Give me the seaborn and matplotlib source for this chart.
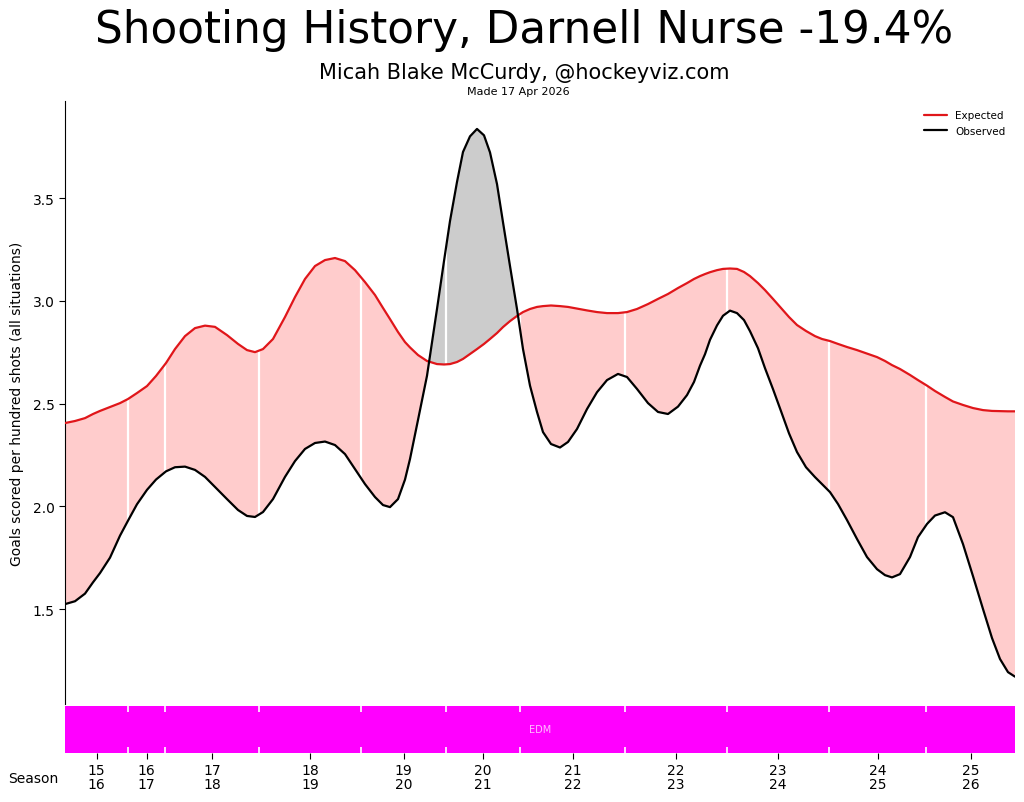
import numpy as np
import pandas as pd
import matplotlib
matplotlib.use("Agg")
import matplotlib.pyplot as plt
import seaborn as sns
from matplotlib.lines import Line2D

# ---------------- data ----------------
seasons = ["15\n16", "16\n17", "17\n18", "18\n19", "19\n20", "20\n21",
           "21\n22", "22\n23", "23\n24", "24\n25", "25\n26"]
season_lengths = [63, 37, 94, 102, 85, 74, 105, 102, 102, 97, 89]
teams = ["EDM"] * 11

x_pts = [0, 10, 20, 28, 35, 45, 55, 63, 72, 82,
         91, 101, 110, 120, 130, 140, 150, 162, 173, 182,
         190, 198, 208, 220, 230, 240, 250, 260, 270, 280,
         290, 300, 310, 318, 325, 333, 340, 345, 353, 362,
         372, 379, 385, 392, 398, 405, 412, 419, 425, 432,
         438, 445, 452, 458, 465, 472, 478, 486, 495, 503,
         512, 522, 532, 542, 553, 562, 572, 583, 593, 603,
         613, 622, 629, 635, 640, 645, 652, 658, 665, 672,
         679, 685, 693, 700, 708, 716, 724, 732, 741, 750,
         757, 765, 773, 782, 792, 802, 812, 820, 827, 835,
         845, 853, 862, 870, 880, 888, 898, 908, 918, 927,
         935, 943, 950]
observed = [1.524, 1.538, 1.575, 1.630, 1.675, 1.750, 1.857, 1.930, 2.010, 2.080,
            2.130, 2.170, 2.190, 2.193, 2.177, 2.143, 2.094, 2.035, 1.982, 1.953,
            1.948, 1.972, 2.035, 2.143, 2.220, 2.279, 2.308, 2.315, 2.298, 2.254,
            2.181, 2.108, 2.045, 2.006, 1.996, 2.035, 2.130, 2.230, 2.420, 2.635,
            2.960, 3.193, 3.388, 3.578, 3.724, 3.800, 3.836, 3.805, 3.722, 3.568,
            3.382, 3.169, 2.960, 2.765, 2.587, 2.459, 2.361, 2.303, 2.286, 2.313,
            2.376, 2.473, 2.555, 2.614, 2.644, 2.629, 2.571, 2.502, 2.459, 2.449,
            2.485, 2.541, 2.605, 2.684, 2.740, 2.810, 2.880, 2.927, 2.952, 2.940,
            2.906, 2.852, 2.769, 2.672, 2.570, 2.463, 2.355, 2.264, 2.190, 2.142,
            2.108, 2.069, 2.011, 1.933, 1.841, 1.753, 1.694, 1.665, 1.654, 1.670,
            1.753, 1.850, 1.914, 1.955, 1.971, 1.947, 1.816, 1.660, 1.500, 1.359,
            1.257, 1.193, 1.171]
expected = [2.405, 2.415, 2.429, 2.449, 2.464, 2.483, 2.502, 2.522, 2.551, 2.585,
            2.634, 2.697, 2.765, 2.828, 2.867, 2.879, 2.873, 2.833, 2.790, 2.760,
            2.750, 2.765, 2.814, 2.921, 3.018, 3.106, 3.169, 3.198, 3.208, 3.193,
            3.149, 3.091, 3.028, 2.965, 2.911, 2.848, 2.799, 2.773, 2.736, 2.707,
            2.692, 2.690, 2.692, 2.702, 2.717, 2.741, 2.765, 2.790, 2.814, 2.843,
            2.872, 2.901, 2.926, 2.945, 2.960, 2.970, 2.974, 2.977, 2.974, 2.970,
            2.962, 2.953, 2.945, 2.940, 2.940, 2.945, 2.960, 2.984, 3.009, 3.033,
            3.062, 3.086, 3.106, 3.120, 3.130, 3.139, 3.149, 3.155, 3.157, 3.155,
            3.140, 3.120, 3.086, 3.052, 3.009, 2.965, 2.921, 2.882, 2.853, 2.828,
            2.814, 2.804, 2.790, 2.775, 2.760, 2.743, 2.726, 2.707, 2.687, 2.668,
            2.639, 2.614, 2.587, 2.561, 2.532, 2.510, 2.493, 2.478, 2.468, 2.464,
            2.463, 2.462, 2.462]

yticks = [1.5, 2.0, 2.5, 3.0, 3.5]

# ---------------- styling ----------------
sns.set_style("ticks")
plt.rcParams["font.family"] = ["DejaVu Sans"]
for k in ["text.color", "axes.labelcolor", "xtick.color", "ytick.color", "axes.edgecolor"]:
    plt.rcParams[k] = "black"

RED = "#e0161a"
PINK = "#ffcccc"
GREY = "#cccccc"
MAGENTA = "#ff00ff"

df = pd.DataFrame({"x": x_pts, "Expected": expected, "Observed": observed})
long = df.melt(id_vars="x", var_name="series", value_name="value")

fig = plt.figure(figsize=(10.24, 8.03), dpi=100)
ax = fig.add_axes([65 / 1024, 1 - 705 / 803, 950 / 1024, 603 / 803])
ax2 = fig.add_axes([65 / 1024, 1 - 754 / 803, 950 / 1024, 47 / 803])

xa = np.array(x_pts, float)
ea = np.array(expected)
oa = np.array(observed)

ax.fill_between(xa, oa, ea, where=oa <= ea, interpolate=True, color=PINK, lw=0, zorder=1)
ax.fill_between(xa, oa, ea, where=oa >= ea, interpolate=True, color=GREY, lw=0, zorder=1)

bounds = np.cumsum(season_lengths)[:-1]
for b in bounds:
    e_b = np.interp(b, xa, ea)
    o_b = np.interp(b, xa, oa)
    ax.vlines(b, min(e_b, o_b), max(e_b, o_b), color="white", lw=1.6, zorder=2)

sns.lineplot(data=long, x="x", y="value", hue="series",
             palette={"Expected": RED, "Observed": "black"},
             lw=1.6, ax=ax, legend=False, zorder=3, sort=False)

ax.set_xlim(0, sum(season_lengths))
ax.set_ylim(1.038, 3.972)
ax.set_yticks(yticks)
ax.set_yticklabels([f"{v:.1f}" for v in yticks], fontsize=10)
ax.set_xticks([])
ax.set_xlabel("")
ax.set_ylabel("Goals scored per hundred shots (all situations)", fontsize=10, labelpad=6)
for s in ["top", "right", "bottom"]:
    ax.spines[s].set_visible(False)
ax.spines["left"].set_color("black")
ax.tick_params(axis="y", length=4, width=0.8, color="black", direction="out", left=True)

handles = [Line2D([0], [0], color=RED, lw=1.6), Line2D([0], [0], color="black", lw=1.6)]
ax.legend(handles, ["Expected", "Observed"], loc="upper right", frameon=False,
          fontsize=7.5, handlelength=2.2, bbox_to_anchor=(1.0, 1.0))

# ---------------- team bar ----------------
starts = np.concatenate([[0], np.cumsum(season_lengths)[:-1]])
ax2.barh([0.5] * len(season_lengths), season_lengths, left=starts, height=1.0,
         color=MAGENTA, edgecolor="none", zorder=1)
ax2.set_xlim(0, sum(season_lengths))
ax2.set_ylim(0, 1)
ax2.text(sum(season_lengths) / 2, 0.5, teams[0], color="#ffbbff", fontsize=7,
         ha="center", va="center")
ax2.vlines(bounds, 0, 0.12, color="white", lw=1.2, zorder=3)
ax2.vlines(bounds, 0.88, 1.0, color="white", lw=1.2, zorder=3)
ax2.set_yticks([])
centers = starts + np.array(season_lengths) / 2
ax2.set_xticks(centers)
ax2.set_xticklabels(seasons, fontsize=10, linespacing=1.05)
ax2.tick_params(axis="x", direction="out", color="black", length=4,
                width=0.8, pad=3, bottom=True, top=False)
for s in ax2.spines.values():
    s.set_visible(False)
ax2.grid(False)

fig.text(33 / 1024, 1 - 779 / 803, "Season", ha="center", va="center", fontsize=10)

# ---------------- titles ----------------
fig.text(524 / 1024, 1 - 43 / 803, "Shooting History, Darnell Nurse -19.4%",
         ha="center", va="baseline", fontsize=31.5)
fig.text(524 / 1024, 1 - 79 / 803, "Micah Blake McCurdy, @hockeyviz.com",
         ha="center", va="baseline", fontsize=15)
fig.text(518 / 1024, 1 - 95 / 803, "Made 17 Apr 2026",
         ha="center", va="baseline", fontsize=8)

fig.savefig("out.png", dpi=100)
